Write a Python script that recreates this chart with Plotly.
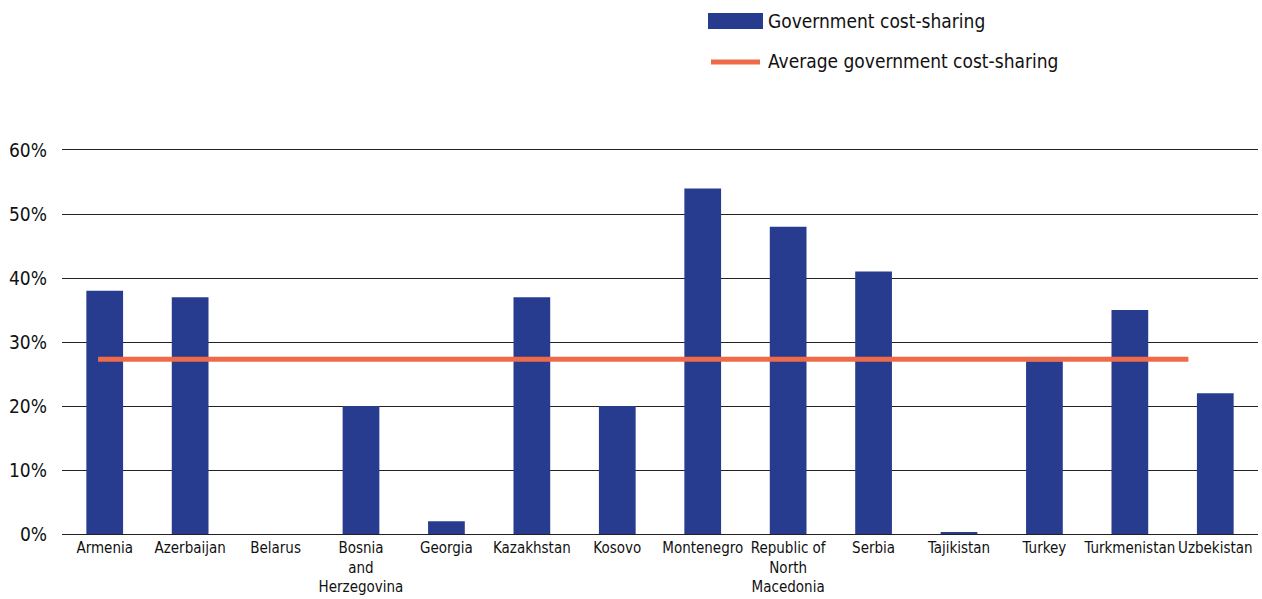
import plotly.graph_objects as go

countries = ["Armenia", "Azerbaijan", "Belarus", "Bosnia and Herzegovina", "Georgia",
             "Kazakhstan", "Kosovo", "Montenegro", "Republic of North Macedonia", "Serbia",
             "Tajikistan", "Turkey", "Turkmenistan", "Uzbekistan"]
tick_labels = ["Armenia", "Azerbaijan", "Belarus", "Bosnia<br>and<br>Herzegovina", "Georgia",
               "Kazakhstan", "Kosovo", "Montenegro", "Republic of<br>North<br>Macedonia", "Serbia",
               "Tajikistan", "Turkey", "Turkmenistan", "Uzbekistan"]
cost_sharing = [38, 37, 0, 20, 2, 37, 20, 54, 48, 41, 0.2, 27, 35, 22]
average = [27.3] * len(countries)
y_ticks = [0, 10, 20, 30, 40, 50, 60]
y_tick_text = ["0%", "10%", "20%", "30%", "40%", "50%", "60%"]

FONT = "DejaVu Sans Condensed, Liberation Sans Narrow, Roboto Condensed, sans-serif"
BAR = "#283c8f"
LINE = "#ef6a48"
GRID = "#222222"

fig = go.Figure()
fig.add_trace(go.Bar(x=countries, y=cost_sharing, marker=dict(color=BAR, line=dict(width=0)),
                     name="Government cost-sharing", showlegend=False))
fig.add_trace(go.Scatter(x=countries, y=average, mode="lines", xaxis="x2",
                         line=dict(color=LINE, width=5), name="Average government cost-sharing",
                         showlegend=False))

fig.update_layout(
    width=1262, height=599,
    margin=dict(l=62, r=4, t=150, b=65),
    paper_bgcolor="white", plot_bgcolor="white",
    font=dict(family=FONT, color="#111111", size=15),
    bargap=0.57,
    xaxis=dict(type="category", tickmode="array", tickvals=countries, ticktext=tick_labels,
               showgrid=False, zeroline=False, showline=True, mirror=True,
               linecolor=GRID, linewidth=1, ticks="", tickangle=0,
               automargin=False, tickfont=dict(size=15), range=[-0.5, 13.5]),
    xaxis2=dict(type="category", overlaying="x", range=[-0.43, 13.83], visible=False),
    yaxis=dict(range=[0, 60], tickmode="array", tickvals=y_ticks, ticktext=y_tick_text,
               showgrid=True, gridcolor=GRID, gridwidth=1, zeroline=False,
               ticks="", automargin=False, tickfont=dict(size=19), ticklabelstandoff=14),
)

# custom legend
fig.add_shape(type="rect", xref="paper", yref="paper",
              x0=(708 - 62) / 1196, x1=(763 - 62) / 1196,
              y0=(534 - 29) / 384, y1=(534 - 13) / 384,
              fillcolor=BAR, line=dict(width=0))
fig.add_shape(type="line", xref="paper", yref="paper",
              x0=(711 - 62) / 1196, x1=(760 - 62) / 1196,
              y0=(534 - 62) / 384, y1=(534 - 62) / 384,
              line=dict(color=LINE, width=5))
fig.add_annotation(text="Government cost-sharing", xref="paper", yref="paper",
                   x=(766 - 62) / 1196, y=(534 - 21) / 384, xanchor="left", yanchor="middle",
                   showarrow=False, font=dict(size=19))
fig.add_annotation(text="Average government cost-sharing", xref="paper", yref="paper",
                   x=(766 - 62) / 1196, y=(534 - 61) / 384, xanchor="left", yanchor="middle",
                   showarrow=False, font=dict(size=19))

fig.write_html("out.html")
